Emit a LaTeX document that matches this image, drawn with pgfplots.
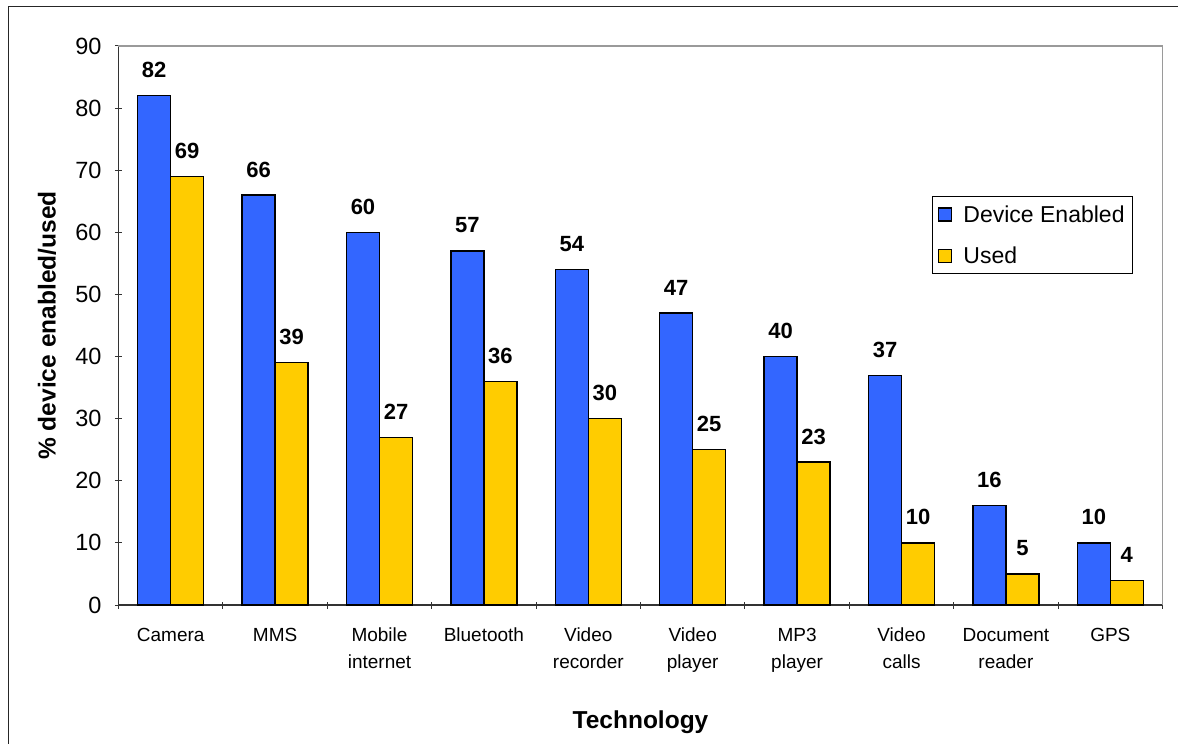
\documentclass[border=0pt]{standalone}
\usepackage{pgfplots}
\pgfplotsset{compat=1.18}
\usetikzlibrary{calc}
\usepackage{fontspec}
\setmainfont{Liberation Sans}

\definecolor{barblue}{HTML}{3366FF}
\definecolor{baryellow}{HTML}{FFCC00}
\definecolor{framegray}{HTML}{9A9A9A}

\begin{document}
\begin{tikzpicture}
\begin{axis}[
  name=ax, at={(0pt,0pt)}, anchor=south west,
  scale only axis, width=1044pt, height=559pt,
  ybar=0pt, bar width=33pt,
  xmin=-0.5, xmax=9.5, ymin=0, ymax=90,
  ytick={0,10,...,90},
  xtick={0,...,9},
  xticklabels={Camera, MMS, {Mobile\\internet}, Bluetooth, {Video\\recorder},
    {Video\\player}, {MP3\\player}, {Video\\calls}, {Document\\reader}, GPS},
  minor xtick={-0.5,0.5,...,9.5},
  every major x tick/.append style={draw=none},
  tick align=outside, major tick length=7pt, minor tick length=7pt,
  tick style={black!80, line width=1pt},
  axis lines=left,
  axis line style={-, black!80, line width=1.2pt},
  /pgf/number format/assume math mode=true,
  yticklabel style={font=\fontsize{23.5}{23.5}\selectfont, xshift=-10pt},
  xticklabel style={font=\fontsize{19}{27}\selectfont, align=center, yshift=-16pt},
  xlabel={\textbf{Technology}},
  ylabel={\textbf{\% device enabled/used}},
  xlabel style={font=\fontsize{24.5}{24.5}\selectfont, at={(axis description cs:0.5,-0.2093)}, anchor=center},
  ylabel style={font=\fontsize{24.5}{24.5}\selectfont, at={(axis description cs:-0.0685,0.5)}, anchor=center},
  nodes near coords,
  every node near coord/.append style={font=\fontsize{22}{22}\selectfont\bfseries, anchor=base, yshift=18pt, black},
  legend style={at={(0.779,0.7317)}, anchor=north west, draw=black, line width=1pt,
    font=\fontsize{23}{23}\selectfont, inner xsep=6pt, inner ysep=7pt,
    row sep=19pt, cells={anchor=west},
    /tikz/every odd column/.append style={column sep=9pt}},
  legend image code/.code={\draw[#1, line width=1.2pt] (0pt,-6.5pt) rectangle (13pt,6.5pt);},
  clip=false,
]
\addplot[fill=barblue, draw=black, line width=1.3pt] coordinates {
  (0,82) (1,66) (2,60) (3,57) (4,54) (5,47) (6,40) (7,37) (8,16) (9,10)};
\addplot[fill=baryellow, draw=black, line width=1.3pt] coordinates {
  (0,69) (1,39) (2,27) (3,36) (4,30) (5,25) (6,23) (7,10) (8,5) (9,4)};
\legend{Device Enabled, Used}
% plot-area frame on top and right
\draw[framegray, line width=1.4pt] (rel axis cs:0,1) -- (rel axis cs:1,1) -- (rel axis cs:1,0);
\end{axis}
% page extent and outer chart frame, measured from the plot area's corner
\coordinate (O) at ($(ax.south west)+(-118.5pt,-139pt)$);
\pgfresetboundingbox
\useasboundingbox (O) rectangle ($(O)+(1178pt,744pt)$);
\draw[line width=1.4pt, black!85] ($(O)+(8.8pt,0pt)$) -- ($(O)+(8.8pt,737.2pt)$) -- ($(O)+(1178pt,737.2pt)$);
\end{tikzpicture}
\end{document}
